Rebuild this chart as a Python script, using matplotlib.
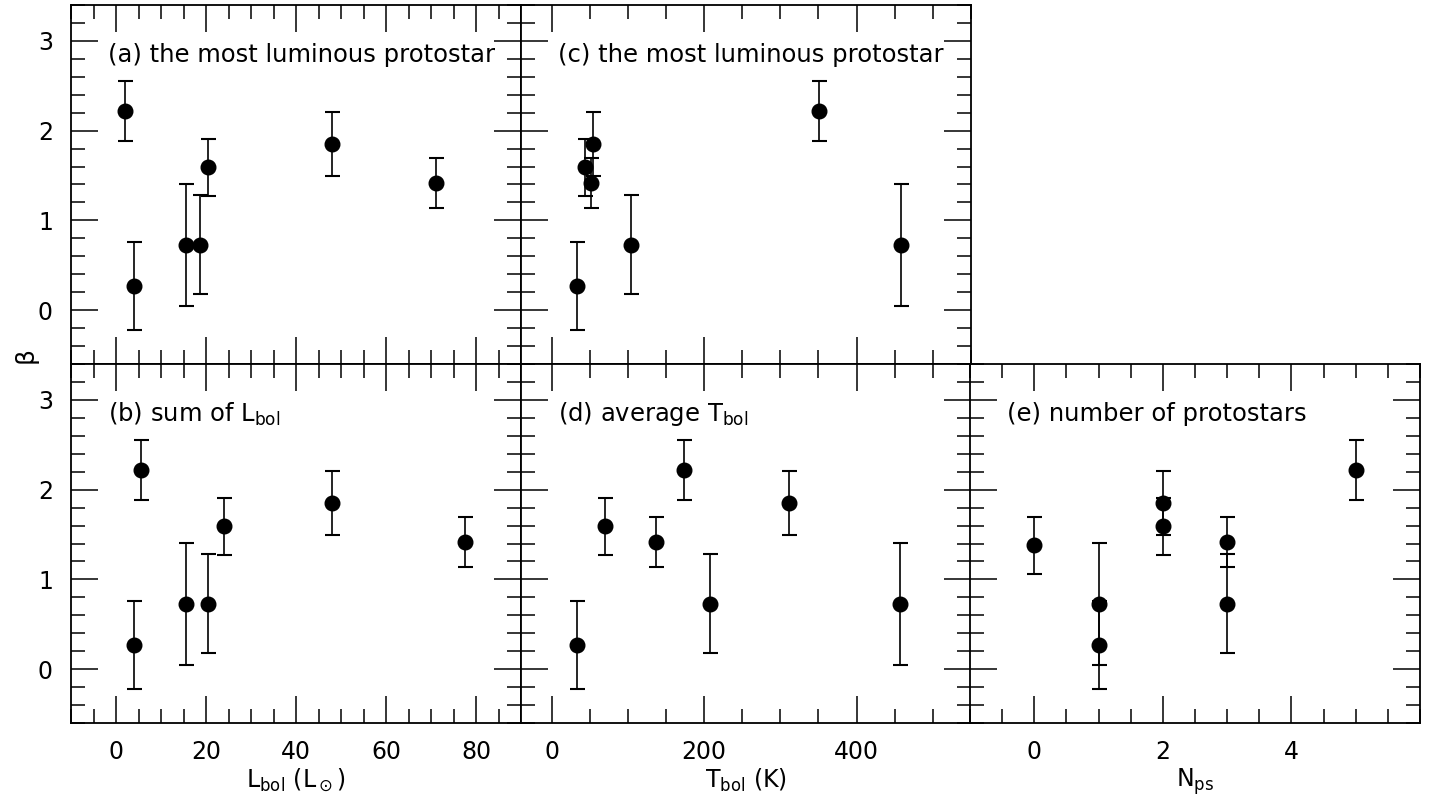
import numpy as np
import matplotlib.pyplot as plt
from matplotlib.ticker import MultipleLocator

plt.rcParams['font.family'] = ['DejaVu Sans']
plt.rcParams['mathtext.default'] = 'regular'

# beta values shared by all panels
beta = [2.22, 0.27, 0.73, 0.73, 1.59, 1.85, 1.42]
beta_err = [0.33, 0.49, 0.68, 0.55, 0.32, 0.36, 0.28]

# x values for each panel
lbol_max = [2.0, 3.9, 15.6, 18.7, 20.4, 48.0, 71.0]
lbol_sum = [5.6, 3.9, 15.6, 20.4, 23.9, 48.1, 77.6]
tbol_max = [350.5, 32.8, 458.0, 103.7, 44.3, 54.3, 52.1]
tbol_avg = [173.7, 32.8, 457.0, 207.8, 70.5, 312.0, 136.5]

# panel (e) has one extra source with no protostar
n_ps = [5, 1, 1, 3, 2, 2, 3, 0]
beta_nps = beta + [1.38]
beta_err_nps = beta_err + [0.32]

titulos = ["(a) the most luminous protostar", "(b) sum of L$_{bol}$",
           "(c) the most luminous protostar", "(d) average T$_{bol}$",
           "(e) number of protostars"]


def desenhar_painel(ax, x, y, yerr, titulo, xlim, xticks, minor, ylabels=True, xlabels=True):
    ax.errorbar(x, y, yerr=yerr, fmt='o', color='black', ms=10.5,
                elinewidth=1.2, capsize=5.4, capthick=1.5)
    ax.set_xlim(*xlim)
    ax.set_ylim(-0.6, 3.4)
    ax.set_xticks(xticks)
    ax.xaxis.set_minor_locator(MultipleLocator(minor))
    ax.set_yticks([0, 1, 2, 3])
    ax.yaxis.set_minor_locator(MultipleLocator(0.2))
    ax.tick_params(which='both', direction='in', top=True, right=True,
                   labelsize=17, width=1.1, color='black')
    ax.tick_params(which='major', length=19.5)
    ax.tick_params(which='minor', length=9.8)
    ax.tick_params(axis='x', pad=12)
    ax.tick_params(axis='y', pad=13)
    if not ylabels:
        ax.set_yticklabels([])
    if not xlabels:
        ax.set_xticklabels([])
    for s in ax.spines.values():
        s.set_linewidth(1.3)
    ax.text(0.082, 0.84, titulo, transform=ax.transAxes, fontsize=17.5,
            ha='left', va='baseline')


fig = plt.figure(figsize=(14.44, 7.97), dpi=100)
w = 450 / 1444
h = 359 / 797
x0 = [71 / 1444, 521 / 1444, 970 / 1444]
y_top = 1 - 364 / 797
y_bot = 1 - 723 / 797

ax_a = fig.add_axes([x0[0], y_top, w, h])
ax_b = fig.add_axes([x0[0], y_bot, w, h])
ax_c = fig.add_axes([x0[1], y_top, w, h])
ax_d = fig.add_axes([x0[1], y_bot, w, h])
ax_e = fig.add_axes([x0[2], y_bot, w, h])

desenhar_painel(ax_a, lbol_max, beta, beta_err, titulos[0], (-10, 90), [0, 20, 40, 60, 80], 5,
                xlabels=False)
desenhar_painel(ax_b, lbol_sum, beta, beta_err, titulos[1], (-10, 90), [0, 20, 40, 60, 80], 5)
desenhar_painel(ax_c, tbol_max, beta, beta_err, titulos[2], (-40, 550), [0, 200, 400], 50,
                ylabels=False, xlabels=False)
desenhar_painel(ax_d, tbol_avg, beta, beta_err, titulos[3], (-40, 550), [0, 200, 400], 50,
                ylabels=False)
desenhar_painel(ax_e, n_ps, beta_nps, beta_err_nps, titulos[4], (-1, 6), [0, 2, 4], 0.5,
                ylabels=False)

ax_b.set_xlabel(r"L$_{bol}$ (L$_\odot$)", fontsize=17, labelpad=2)
ax_d.set_xlabel(r"T$_{bol}$ (K)", fontsize=17, labelpad=2)
ax_e.set_xlabel(r"N$_{ps}$", fontsize=17, labelpad=2)

fig.text(28 / 1444, 1 - 358 / 797, r"$\beta$", rotation=90, fontsize=18,
         ha='center', va='center')

fig.savefig("out.png", dpi=100)
